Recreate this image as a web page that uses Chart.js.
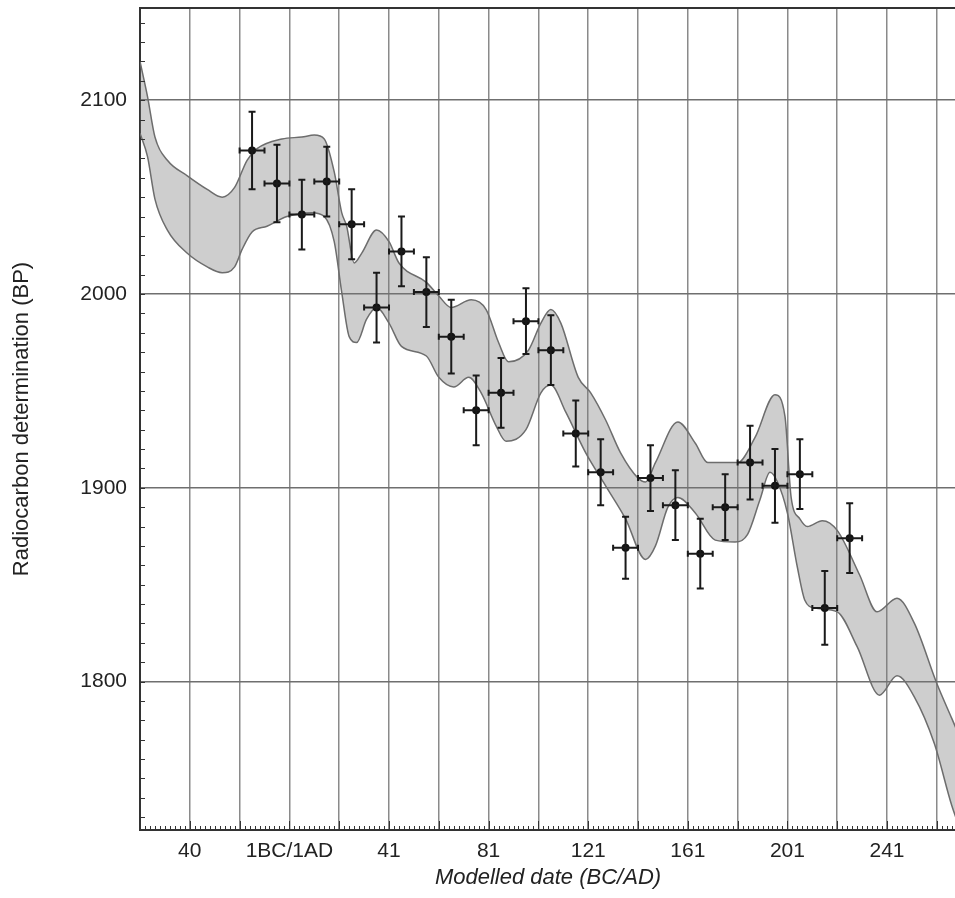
<!DOCTYPE html>
<html>
<head>
<meta charset="utf-8">
<script src="https://cdn.jsdelivr.net/npm/chart.js@4.4.1/dist/chart.umd.min.js"></script>
<style>
  body { margin: 0; overflow: hidden; background: #fff; }
  #wrap { width: 960px; height: 898px; }
</style>
</head>
<body>
<div id="wrap"><canvas id="wiggleChart"></canvas></div>
<script>
// years counted from the 1BC/1AD boundary (0), BC negative
const pointYears = [-15, -5, 5, 15, 25, 35, 45, 55, 65, 75, 85, 95, 105, 115, 125, 135, 145, 155, 165, 175, 185, 195, 205, 215, 225];
const pointBP = [2074, 2057, 2041, 2058, 2036, 1993, 2022, 2001, 1978, 1940, 1949, 1986, 1971, 1928, 1908, 1869, 1905, 1891, 1866, 1890, 1913, 1901, 1907, 1838, 1874];
const pointErr = [20, 20, 18, 18, 18, 18, 18, 18, 19, 18, 18, 17, 18, 17, 17, 16, 17, 18, 18, 17, 19, 19, 18, 19, 18];
const yearErr = [5, 5, 5, 5, 5, 5, 5, 5, 5, 5, 5, 5, 5, 5, 5, 5, 5, 5, 5, 5, 5, 5, 5, 5, 5];

// calibration curve, 1 sigma envelope
const upperYears = [-60, -57, -54, -49, -41, -33, -27, -22, -17, -13, -3, 5, 10, 14, 18, 21, 23, 26, 29, 35, 40, 44, 55, 60, 65, 73, 79, 84, 88, 96, 101, 105, 109, 116, 121, 127, 133, 140, 143, 147, 156, 163, 168, 180, 187, 195, 199, 201.5, 205, 208, 214, 220, 229, 236, 244, 251, 260, 266, 269];
const upperBP = [2120, 2102, 2081, 2069, 2061, 2054, 2050, 2055, 2069, 2075, 2080, 2081, 2082, 2080, 2063, 2042, 2035, 2016, 2021, 2033, 2027, 2016, 2006, 1999, 1993, 1997, 1992, 1975, 1965, 1971, 1985, 1992, 1985, 1957, 1949, 1935, 1918, 1905, 1903, 1913, 1934, 1923, 1913, 1913, 1926, 1948, 1937, 1895, 1884, 1880, 1883, 1878, 1855, 1836, 1843, 1830, 1799, 1781, 1772];
const lowerYears = [-60, -57, -54, -49, -41, -33, -27, -22, -19, -15, -9, -1, 9, 14, 18, 21, 24, 27, 31, 35, 40, 45, 55, 60, 66, 72, 77, 83, 87, 95, 101, 105, 111, 119, 127, 135, 143, 147, 152, 156, 163, 171, 179, 184, 189, 193, 196, 200, 204, 207, 211, 220, 228, 237, 244, 251, 259, 266, 269];
const lowerBP = [2083, 2071, 2049, 2033, 2021, 2014, 2011, 2014, 2023, 2032, 2035, 2040, 2042, 2040, 2027, 2001, 1978, 1975, 1987, 1993, 1985, 1973, 1968, 1957, 1952, 1957, 1949, 1932, 1924, 1930, 1949, 1953, 1939, 1918, 1901, 1884, 1863, 1870, 1890, 1895, 1887, 1873, 1872, 1876, 1894, 1908, 1903, 1887, 1859, 1842, 1838, 1836, 1818, 1793, 1803, 1792, 1768, 1736, 1725];

const xTickValues = [-40, -20, 0, 20, 40, 60, 80, 100, 120, 140, 160, 180, 200, 220, 240, 260];
const xTickLabels = ['40', '', '1BC/1AD', '', '41', '', '81', '', '121', '', '161', '', '201', '', '241', ''];
const yTickValues = [1800, 1900, 2000, 2100];

const FONT = "'Liberation Sans', Arial, sans-serif";
const INK = '#222';

function toXY(xs, ys) {
  return xs.map((v, i) => ({ x: v, y: ys[i] }));
}

// error bars and the frame details (minor ticks, top border)
const errorBars = {
  id: 'errorBars',
  afterDatasetsDraw(chart) {
    const { ctx, scales: { x, y } } = chart;
    ctx.save();
    ctx.strokeStyle = '#1a1a1a';
    ctx.lineWidth = 2;
    pointYears.forEach((yr, i) => {
      const cx = x.getPixelForValue(yr);
      const cy = y.getPixelForValue(pointBP[i]);
      const top = y.getPixelForValue(pointBP[i] + pointErr[i]);
      const bot = y.getPixelForValue(pointBP[i] - pointErr[i]);
      const left = x.getPixelForValue(yr - yearErr[i]);
      const right = x.getPixelForValue(yr + yearErr[i]);
      ctx.beginPath();
      ctx.moveTo(cx, top); ctx.lineTo(cx, bot);
      ctx.moveTo(cx - 3.5, top); ctx.lineTo(cx + 3.5, top);
      ctx.moveTo(cx - 3.5, bot); ctx.lineTo(cx + 3.5, bot);
      ctx.moveTo(left, cy); ctx.lineTo(right, cy);
      ctx.moveTo(left, cy - 3); ctx.lineTo(left, cy + 3);
      ctx.moveTo(right, cy - 3); ctx.lineTo(right, cy + 3);
      ctx.stroke();
    });
    ctx.restore();
  },
  afterDraw(chart) {
    const { ctx, chartArea: a, scales: { x, y } } = chart;
    ctx.save();
    ctx.strokeStyle = '#333';
    ctx.lineWidth = 1;
    ctx.beginPath();
    for (let v = Math.ceil(x.min / 2) * 2; v <= x.max; v += 2) {
      const px = Math.round(x.getPixelForValue(v)) + 0.5;
      const len = v % 20 === 0 ? 9 : 4;
      ctx.moveTo(px, a.bottom);
      ctx.lineTo(px, a.bottom - len);
    }
    for (let v = Math.ceil(y.min / 10) * 10; v <= y.max; v += 10) {
      const py = Math.round(y.getPixelForValue(v)) + 0.5;
      ctx.moveTo(a.left, py);
      ctx.lineTo(a.left + 5, py);
    }
    ctx.stroke();
    ctx.strokeStyle = '#333';
    ctx.lineWidth = 2;
    ctx.beginPath();
    ctx.moveTo(a.left, a.top);
    ctx.lineTo(a.right, a.top);
    ctx.stroke();
    ctx.restore();
  }
};

new Chart(document.getElementById('wiggleChart'), {
  type: 'scatter',
  data: {
    datasets: [
      {
        label: 'Samples',
        data: toXY(pointYears, pointBP),
        pointRadius: 4,
        pointBackgroundColor: '#111',
        pointBorderWidth: 0,
        showLine: false
      },
      {
        label: 'Curve lower',
        data: toXY(lowerYears, lowerBP),
        showLine: true,
        pointRadius: 0,
        borderColor: '#6d6d6d',
        borderWidth: 1.5,
        cubicInterpolationMode: 'monotone',
        fill: false
      },
      {
        label: 'Curve upper',
        data: toXY(upperYears, upperBP),
        showLine: true,
        pointRadius: 0,
        borderColor: '#6d6d6d',
        borderWidth: 1.5,
        cubicInterpolationMode: 'monotone',
        backgroundColor: 'rgba(120, 120, 120, 0.36)',
        fill: '-1'
      }
    ]
  },
  options: {
    responsive: true,
    maintainAspectRatio: false,
    animation: false,
    layout: { padding: { top: 8, left: 0, right: 0, bottom: 0 } },
    plugins: {
      legend: { display: false },
      tooltip: { enabled: false }
    },
    scales: {
      x: {
        type: 'linear',
        min: -60,
        max: 267.7,
        afterFit: (s) => { s.height = 68; s.paddingLeft = 0; s.paddingRight = 0; },
        afterBuildTicks: (s) => { s.ticks = xTickValues.map(v => ({ value: v })); },
        grid: { color: '#8a8a8a', lineWidth: 1.5, drawTicks: false },
        border: { color: '#333', width: 2 },
        ticks: {
          padding: 9,
          maxRotation: 0,
          autoSkip: false,
          color: INK,
          font: { family: FONT, size: 21 },
          callback: (v) => xTickLabels[xTickValues.indexOf(v)] ?? ''
        },
        title: {
          display: true,
          text: 'Modelled date (BC/AD)',
          color: INK,
          font: { family: FONT, size: 22, style: 'italic', lineHeight: 1.2 },
          padding: { top: 0, bottom: 7 }
        }
      },
      y: {
        min: 1723.4,
        max: 2147.6,
        afterFit: (s) => { s.width = 140; s.paddingTop = 0; s.paddingBottom = 0; },
        afterBuildTicks: (s) => { s.ticks = yTickValues.map(v => ({ value: v })); },
        grid: { color: '#6f6f6f', lineWidth: 1.5, drawTicks: false },
        border: { color: '#333', width: 2 },
        ticks: {
          padding: 13,
          color: INK,
          font: { family: FONT, size: 21 },
          callback: (v) => String(v)
        },
        title: {
          display: true,
          text: 'Radiocarbon determination (BP)',
          color: INK,
          font: { family: FONT, size: 22, lineHeight: 1.2 },
          padding: { top: 9, bottom: 0 }
        }
      }
    }
  },
  plugins: [errorBars]
});
</script>
</body>
</html>
